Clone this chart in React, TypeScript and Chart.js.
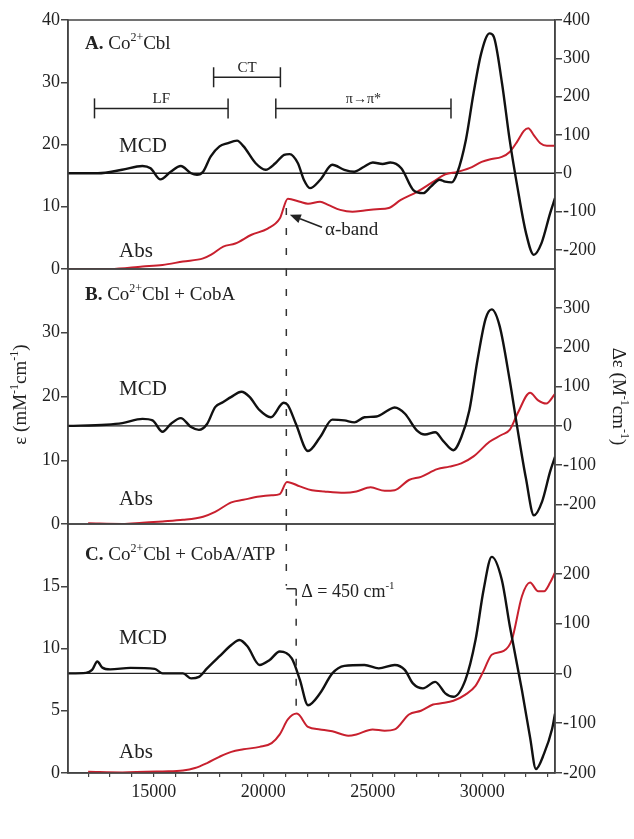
import React, { useEffect, useRef } from 'react';
import { Chart, registerables } from 'chart.js';

Chart.register(...registerables);

const FAMILY = "'Liberation Serif', 'Times New Roman', 'DejaVu Serif', serif";
const INK = '#222222';
const FRAME = '#444444';
const RED = '#c8202e';
const BLACK = '#111111';

// ---------- shared energy axis ----------
const X_MIN = 11080;
const X_MAX = 33320;
const X_TICKS = [12000, 13000, 14000, 15000, 16000, 17000, 18000, 19000, 20000, 21000, 22000, 23000, 24000, 25000, 26000, 27000, 28000, 29000, 30000, 31000, 32000, 33000];
const X_LABELED = [15000, 20000, 25000, 30000];

// ---------- y tick values ----------
const A_LEFT_TICKS = [0, 10, 20, 30, 40];
const A_RIGHT_TICKS = [-200, -100, 0, 100, 200, 300, 400];
const B_LEFT_TICKS = [0, 10, 20, 30];
const B_RIGHT_TICKS = [-200, -100, 0, 100, 200, 300];
const C_LEFT_TICKS = [0, 5, 10, 15];
const C_RIGHT_TICKS = [-200, -100, 0, 100, 200];

// ---------- Panel A: Co2+Cbl ----------
const mcdA_E = [11080, 12450, 13550, 14480, 14850, 15300, 15770, 16230, 16700, 16970, 17250, 17600, 18000, 18350, 18800, 19100, 19650, 20100, 20550, 20950, 21200, 21580, 21850, 22130, 22600, 23150, 23700, 24150, 24600, 25000, 25450, 25800, 26300, 26850, 27300, 27650, 28050, 28300, 28600, 28850, 29250, 29600, 29950, 30330, 30520, 30900, 31250, 31600, 32000, 32350, 32700, 33100, 33320];
const mcdA = [0, 0, 9, 19, 13, -16, 4, 19, 0, -4, 4, 44, 70, 78, 85, 70, 26, 9, 26, 48, 50, 26, -17, -39, -17, 22, 9, 4, 17, 28, 24, 28, 13, -44, -52, -35, -17, -22, -24, 0, 87, 209, 313, 365, 357, 235, 87, -35, -157, -213, -183, -104, -65];
const absA_E = [11080, 13010, 14480, 15400, 16330, 17250, 17620, 18170, 18720, 19460, 20200, 20750, 21120, 21670, 22040, 22590, 22960, 23510, 24070, 24620, 25170, 25730, 26280, 27020, 27750, 28310, 28860, 29410, 29970, 30330, 30890, 31250, 31600, 31900, 32100, 32350, 32650, 32950, 33320];
const absA = [0, 0, 0.4, 0.65, 1.2, 1.7, 2.3, 3.6, 4.1, 5.5, 6.5, 8.1, 11.3, 10.8, 10.5, 10.8, 10.3, 9.5, 9.2, 9.4, 9.6, 9.8, 11.1, 12.4, 14.0, 15.2, 15.6, 16.2, 17.2, 17.6, 18.0, 18.8, 20.5, 22.2, 22.6, 21.5, 20.2, 19.8, 19.8];

// ---------- Panel B: Co2+Cbl + CobA ----------
const mcdB_E = [11080, 12830, 13560, 14480, 14940, 15400, 15770, 16230, 16700, 17060, 17430, 17800, 18170, 18540, 19000, 19370, 19830, 20340, 20930, 21120, 21490, 22040, 22590, 23150, 23700, 24160, 24620, 25170, 25730, 26000, 26470, 27020, 27380, 27850, 28210, 28680, 29040, 29410, 29780, 30150, 30430, 30790, 31250, 31620, 31990, 32360, 32730, 33100, 33320];
const mcdB = [0, 3, 7, 18, 14, -15, 5, 20, -3, -10, 5, 48, 61, 74, 87, 74, 40, 22, 59, 53, 5, -64, -29, 16, 14, 9, 22, 24, 41, 47, 31, -12, -22, -16, -38, -62, -29, 40, 168, 273, 297, 255, 117, -12, -133, -228, -193, -116, -79];
const absB_E = [12000, 13560, 14480, 15400, 16330, 17250, 17800, 18540, 19090, 19830, 20380, 20750, 21080, 21670, 22220, 22780, 23700, 24250, 24900, 25540, 26000, 26650, 27200, 27940, 28490, 29040, 29600, 30330, 30890, 31260, 31620, 32180, 32550, 32920, 33320];
const absB = [0.1, 0, 0.2, 0.4, 0.65, 1.15, 1.9, 3.4, 3.8, 4.3, 4.5, 4.7, 6.6, 5.9, 5.3, 5.1, 4.9, 5.1, 5.75, 5.2, 5.3, 6.9, 7.4, 8.6, 9.0, 9.5, 10.6, 12.9, 14.0, 14.8, 17.4, 20.6, 19.4, 18.9, 20.4];

// ---------- Panel C: Co2+Cbl + CobA/ATP ----------
const mcdC_E = [11080, 11900, 12180, 12420, 12640, 13010, 13930, 15040, 15400, 16330, 16700, 17060, 17430, 17990, 18540, 18910, 19280, 19830, 20290, 20750, 21300, 21670, 22040, 22590, 23150, 23700, 24620, 25270, 26000, 26460, 26830, 27290, 27850, 28310, 28680, 29230, 29690, 30060, 30430, 30890, 31260, 31810, 32180, 32450, 32820, 33190, 33320];
const mcdC = [0, 1, 7, 24, 12, 8, 11, 9, 0, 0, -10, -7, 10, 34, 57, 67, 54, 17, 27, 44, 30, -13, -64, -40, 0, 15, 17, 10, 17, 7, -20, -30, -17, -40, -47, -13, 67, 168, 234, 188, 94, -34, -128, -192, -161, -111, -81];
const absC_E = [12000, 13560, 15400, 16330, 16880, 17430, 17990, 18540, 19090, 19830, 20380, 20750, 21120, 21530, 22040, 22590, 23150, 23880, 24250, 24990, 25540, 26000, 26650, 27200, 27750, 28120, 28680, 29230, 29690, 30060, 30430, 30980, 31350, 31810, 32180, 32550, 32820, 33100, 33320];
const absC = [0.1, 0.05, 0.13, 0.2, 0.4, 0.8, 1.3, 1.7, 1.9, 2.1, 2.4, 3.1, 4.3, 4.77, 3.7, 3.5, 3.35, 3.0, 3.1, 3.5, 3.4, 3.5, 4.7, 5.0, 5.5, 5.6, 5.8, 6.3, 7.0, 8.2, 9.5, 9.8, 10.7, 14.2, 15.3, 14.6, 14.6, 15.3, 16.1];

// ---------- annotation values (energies in cm-1, heights in mM-1cm-1) ----------
const ALPHA_E = 21050;
const SHIFT_E = 21500;
const LF_RANGE = [12290, 18390];
const CT_RANGE = [17730, 20780];
const PI_RANGE = [20570, 28570];
const LOW_BRACKET_EPS = 25.8;
const HIGH_BRACKET_EPS = 30.8;

type Seg = { t: string; b?: boolean; sup?: boolean };

function drawRich(ctx: CanvasRenderingContext2D, segs: Seg[], x: number, yCenter: number, size: number, align: 'left' | 'center') {
  const supSize = Math.round(size * 0.62);
  const fontOf = (s: Seg) => `${s.b ? 'bold ' : ''}${s.sup ? supSize : size}px ${FAMILY}`;
  let total = 0;
  const widths = segs.map((s) => {
    ctx.font = fontOf(s);
    const w = ctx.measureText(s.t).width;
    total += w;
    return w;
  });
  let cx = align === 'center' ? x - total / 2 : x;
  const base = yCenter + size * 0.33;
  ctx.fillStyle = INK;
  ctx.textAlign = 'left';
  ctx.textBaseline = 'alphabetic';
  segs.forEach((s, i) => {
    ctx.font = fontOf(s);
    ctx.fillText(s.t, cx, s.sup ? base - size * 0.42 : base);
    cx += widths[i];
  });
}

function drawRotated(ctx: CanvasRenderingContext2D, segs: Seg[], cx: number, cy: number, size: number, angle: number) {
  ctx.save();
  ctx.translate(cx, cy);
  ctx.rotate(angle);
  drawRich(ctx, segs, 0, 0, size, 'center');
  ctx.restore();
}

function line(ctx: CanvasRenderingContext2D, x0: number, y0: number, x1: number, y1: number, dash: number[] = []) {
  ctx.save();
  ctx.setLineDash(dash);
  ctx.beginPath();
  ctx.moveTo(x0, y0);
  ctx.lineTo(x1, y1);
  ctx.stroke();
  ctx.restore();
}

function bracket(chart: any, range: number[], eps: number, label: Seg[], size: number) {
  const { ctx, scales } = chart;
  const x0 = scales.x.getPixelForValue(range[0]);
  const x1 = scales.x.getPixelForValue(range[1]);
  const y = scales.yL.getPixelForValue(eps);
  ctx.strokeStyle = INK;
  ctx.lineWidth = 1.5;
  line(ctx, x0, y, x1, y);
  line(ctx, x0, y - 10, x0, y + 10);
  line(ctx, x1, y - 10, x1, y + 10);
  drawRich(ctx, label, (x0 + x1) / 2, y - 10, size, 'center');
}

const DASH = [7, 13];

function decorA(chart: any) {
  const { ctx, scales, chartArea } = chart;
  bracket(chart, LF_RANGE, LOW_BRACKET_EPS, [{ t: 'LF' }], 15);
  bracket(chart, CT_RANGE, HIGH_BRACKET_EPS, [{ t: 'CT' }], 15);
  bracket(chart, PI_RANGE, LOW_BRACKET_EPS, [{ t: 'π→π*' }], 14);
  const xa = scales.x.getPixelForValue(ALPHA_E);
  ctx.strokeStyle = '#333';
  ctx.lineWidth = 1.5;
  line(ctx, xa, scales.yL.getPixelForValue(9.8), xa, chartArea.bottom, DASH);
  // alpha-band arrow
  const tipX = scales.x.getPixelForValue(21210);
  const tipY = scales.yL.getPixelForValue(8.7);
  const tailX = scales.x.getPixelForValue(22680);
  const tailY = scales.yL.getPixelForValue(6.7);
  ctx.strokeStyle = INK;
  ctx.lineWidth = 1.6;
  const ang = Math.atan2(tipY - tailY, tipX - tailX);
  const hl = 11;
  const hx = tipX - hl * Math.cos(ang);
  const hy = tipY - hl * Math.sin(ang);
  line(ctx, tailX, tailY, hx, hy);
  ctx.fillStyle = INK;
  ctx.beginPath();
  ctx.moveTo(tipX, tipY);
  ctx.lineTo(hx + 4.5 * Math.sin(ang), hy - 4.5 * Math.cos(ang));
  ctx.lineTo(hx - 4.5 * Math.sin(ang), hy + 4.5 * Math.cos(ang));
  ctx.closePath();
  ctx.fill();
  drawRich(ctx, [{ t: 'α-band' }], tailX + 3, scales.yL.getPixelForValue(6.4), 19, 'left');
}

function decorB(chart: any) {
  const { ctx, scales, chartArea } = chart;
  const xa = scales.x.getPixelForValue(ALPHA_E);
  ctx.strokeStyle = '#333';
  ctx.lineWidth = 1.5;
  line(ctx, xa, chartArea.top, xa, chartArea.bottom, DASH);
  drawRotated(ctx, [{ t: 'ε (mM' }, { t: '-1', sup: true }, { t: 'cm' }, { t: '-1', sup: true }, { t: ')' }], 20, (chartArea.top + chartArea.bottom) / 2 - 2, 19, -Math.PI / 2);
  drawRotated(ctx, [{ t: 'Δε (M' }, { t: '-1', sup: true }, { t: 'cm' }, { t: '-1', sup: true }, { t: ')' }], 619, (chartArea.top + chartArea.bottom) / 2, 19, Math.PI / 2);
}

function decorC(chart: any) {
  const { ctx, scales, chartArea } = chart;
  const xa = scales.x.getPixelForValue(ALPHA_E);
  const xs = scales.x.getPixelForValue(SHIFT_E);
  const yb = scales.yL.getPixelForValue(14.8);
  ctx.strokeStyle = '#333';
  ctx.lineWidth = 1.5;
  line(ctx, xa, chartArea.top, xa, yb - 3, DASH);
  line(ctx, xa, yb, xs, yb);
  line(ctx, xs, yb, xs, yb + 7);
  line(ctx, xs, scales.yL.getPixelForValue(14.0), xs, scales.yL.getPixelForValue(4.85), DASH);
  drawRich(ctx, [{ t: 'Δ = 450 cm' }, { t: '-1', sup: true }], xs + 5, yb + 2, 18, 'left');
  drawRich(ctx, [{ t: 'Energy (cm' }, { t: '-1', sup: true }, { t: ')' }], (chartArea.left + chartArea.right) / 2, 829, 19, 'center');
}

type AxisDef = { min: number; max: number; ticks: number[] };
type PanelDef = {
  key: string; top: number; height: number; showX: boolean;
  left: AxisDef; right: AxisDef;
  mcdE: number[]; mcd: number[]; absE: number[]; abs: number[];
  title: Seg[]; titleDy: number; mcdDy: number; absDy: number;
  decor: (chart: any) => void;
};

const PANELS: PanelDef[] = [
  {
    key: 'A', top: 5, height: 279, showX: false,
    left: { min: 0, max: 40, ticks: A_LEFT_TICKS }, right: { min: -250, max: 400, ticks: A_RIGHT_TICKS },
    mcdE: mcdA_E, mcd: mcdA, absE: absA_E, abs: absA,
    title: [{ t: 'A.', b: true }, { t: ' Co' }, { t: '2+', sup: true }, { t: 'Cbl' }],
    titleDy: 23, mcdDy: 125, absDy: 230, decor: decorA,
  },
  {
    key: 'B', top: 254, height: 285, showX: false,
    left: { min: 0, max: 40, ticks: B_LEFT_TICKS }, right: { min: -250, max: 400, ticks: B_RIGHT_TICKS },
    mcdE: mcdB_E, mcd: mcdB, absE: absB_E, abs: absB,
    title: [{ t: 'B.', b: true }, { t: ' Co' }, { t: '2+', sup: true }, { t: 'Cbl + CobA' }],
    titleDy: 24.5, mcdDy: 119.5, absDy: 229, decor: decorB,
  },
  {
    key: 'C', top: 509, height: 330, showX: true,
    left: { min: 0, max: 20, ticks: C_LEFT_TICKS }, right: { min: -200, max: 300, ticks: C_RIGHT_TICKS },
    mcdE: mcdC_E, mcd: mcdC, absE: absC_E, abs: absC,
    title: [{ t: 'C.', b: true }, { t: ' Co' }, { t: '2+', sup: true }, { t: 'Cbl + CobA/ATP' }],
    titleDy: 30, mcdDy: 113, absDy: 227, decor: decorC,
  },
];

const LEFT_W = 68;
const RIGHT_W = 79;

function yAxis(pos: 'left' | 'right', def: AxisDef) {
  return {
    type: 'linear',
    position: pos,
    min: def.min,
    max: def.max,
    afterBuildTicks: (axis: any) => {
      axis.ticks = def.ticks.map((v) => ({ value: v }));
    },
    afterFit: (axis: any) => {
      axis.width = pos === 'left' ? LEFT_W : RIGHT_W;
    },
    ticks: {
      autoSkip: false,
      color: INK,
      padding: 1,
      font: { family: FAMILY, size: 18 },
      callback: (v: any) => String(v),
    },
    grid: { display: true, drawOnChartArea: false, drawTicks: true, tickLength: 7, color: FRAME, lineWidth: 1.5 },
    border: { display: true, color: FRAME, width: 1.5 },
  };
}

function Panel({ def }: { def: PanelDef }) {
  const ref = useRef<HTMLCanvasElement>(null);
  useEffect(() => {
    const canvas = ref.current;
    if (!canvas) return;
    const decorPlugin = {
      id: 'decor' + def.key,
      beforeDatasetsDraw(chart: any) {
        const { ctx, chartArea, scales } = chart;
        const y0 = scales.yR.getPixelForValue(0);
        ctx.save();
        ctx.strokeStyle = INK;
        ctx.lineWidth = 1.3;
        line(ctx, chartArea.left, y0, chartArea.right, y0);
        ctx.restore();
      },
      afterDraw(chart: any) {
        const { ctx, chartArea } = chart;
        ctx.save();
        ctx.strokeStyle = FRAME;
        ctx.lineWidth = 1.5;
        ctx.strokeRect(chartArea.left, chartArea.top, chartArea.right - chartArea.left, chartArea.bottom - chartArea.top);
        drawRich(ctx, def.title, chartArea.left + 17, chartArea.top + def.titleDy, 19, 'left');
        drawRich(ctx, [{ t: 'MCD' }], chartArea.left + 51, chartArea.top + def.mcdDy, 21, 'left');
        drawRich(ctx, [{ t: 'Abs' }], chartArea.left + 51, chartArea.top + def.absDy, 21, 'left');
        def.decor(chart);
        ctx.restore();
      },
    };
    const chart = new Chart(canvas, {
      type: 'line',
      data: {
        datasets: [
          {
            label: 'MCD',
            data: def.mcdE.map((e, i) => ({ x: e, y: def.mcd[i] })),
            yAxisID: 'yR',
            borderColor: BLACK,
            borderWidth: 2.4,
            pointRadius: 0,
            cubicInterpolationMode: 'monotone',
            fill: false,
          },
          {
            label: 'Abs',
            data: def.absE.map((e, i) => ({ x: e, y: def.abs[i] })),
            yAxisID: 'yL',
            borderColor: RED,
            borderWidth: 2,
            pointRadius: 0,
            cubicInterpolationMode: 'monotone',
            fill: false,
          },
        ],
      },
      options: {
        animation: false,
        responsive: false,
        devicePixelRatio: 1,
        events: [],
        layout: { padding: { top: 15, bottom: def.showX ? 0 : 15, left: 0, right: 0 } },
        plugins: { legend: { display: false }, tooltip: { enabled: false }, title: { display: false } },
        scales: {
          x: {
            type: 'linear',
            display: def.showX,
            min: X_MIN,
            max: X_MAX,
            afterBuildTicks: (axis: any) => {
              axis.ticks = X_TICKS.map((v) => ({ value: v }));
            },
            afterFit: (axis: any) => {
              axis.height = def.showX ? 66 : 0;
            },
            ticks: {
              autoSkip: false,
              maxRotation: 0,
              color: INK,
              padding: 4,
              font: { family: FAMILY, size: 18 },
              callback: (v: any) => (X_LABELED.includes(Number(v)) ? String(v) : ''),
            },
            grid: { display: true, drawOnChartArea: false, drawTicks: true, tickLength: 4, color: FRAME, lineWidth: 1.2 },
            border: { display: true, color: FRAME, width: 1.5 },
          },
          yL: yAxis('left', def.left),
          yR: yAxis('right', def.right),
        },
      } as any,
      plugins: [decorPlugin],
    } as any);
    return () => chart.destroy();
  }, [def]);
  return (
    <canvas
      ref={ref}
      width={634}
      height={def.height}
      style={{ position: 'absolute', left: 0, top: def.top, width: 634, height: def.height }}
    />
  );
}

export default function App() {
  return (
    <div style={{ position: 'absolute', left: 0, top: 0, width: 634, height: 839, background: '#ffffff', overflow: 'hidden' }}>
      {PANELS.map((p) => (
        <Panel key={p.key} def={p} />
      ))}
    </div>
  );
}
